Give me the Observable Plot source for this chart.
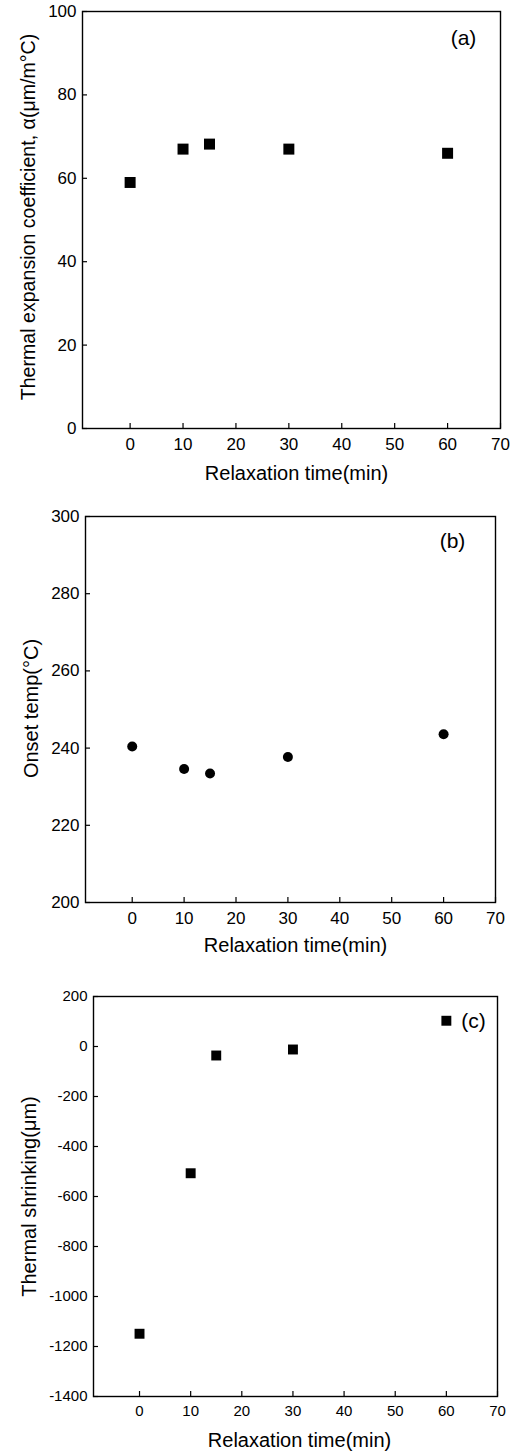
<!DOCTYPE html>
<html>
<head>
<meta charset="utf-8">
<script src="https://cdn.jsdelivr.net/npm/d3@7"></script>
<script src="https://cdn.jsdelivr.net/npm/@observablehq/plot@0.6"></script>
<style>
  html, body { margin: 0; padding: 0; background: white; }
  #chart svg { display: block; }
</style>
</head>
<body>
<div id="chart"></div>
<script>
// ---- data ----
const relaxationTime = [0, 10, 15, 30, 60];
const thermalExpansion = [59, 67, 68.2, 67, 66];          // (a) µm/m°C
const onsetTemp = [240.4, 234.6, 233.4, 237.7, 243.6];    // (b) °C
const thermalShrinking = [-1149, -507, -36, -12, 103];    // (c) µm

const xTicks = [0, 10, 20, 30, 40, 50, 60, 70];
const yTicksA = [0, 20, 40, 60, 80, 100];
const yTicksB = [200, 220, 240, 260, 280, 300];
const yTicksC = [-1400, -1200, -1000, -800, -600, -400, -200, 0, 200];

const xLabel = "Relaxation time(min)";
const yLabelA = "Thermal expansion coefficient, \u03b1(\u03bcm/m\u00b0C)";
const yLabelB = "Onset temp(\u00b0C)";
const yLabelC = "Thermal shrinking(\u03bcm)";
const tags = ["(a)", "(b)", "(c)"];

const font = "'Liberation Sans', Arial, Helvetica, sans-serif";
const TICK = 5; // inward tick length in px

function panel(o) {
  const data = relaxationTime.map((t, i) => ({t, v: o.values[i]}));
  const W = 517;
  const frameW = W - o.ml - o.mr;
  const frameH = o.height - o.mt - o.mb;
  return Plot.plot({
    width: W,
    height: o.height,
    marginTop: o.mt, marginBottom: o.mb, marginLeft: o.ml, marginRight: o.mr,
    style: {fontFamily: font, fontSize: o.fs + "px", color: "black", background: "white", overflow: "visible"},
    x: {domain: [-9, 70]},
    y: {domain: o.yDomain},
    marks: [
      Plot.frame({stroke: "black", strokeWidth: 1.4}),
      // inward tick marks (bottom and left)
      Plot.ruleX(xTicks, {x: d => d, insetTop: frameH - TICK, stroke: "black", strokeWidth: 1.2}),
      Plot.ruleY(o.yTicks, {y: d => d, insetRight: frameW - TICK, stroke: "black", strokeWidth: 1.2}),
      // tick labels
      Plot.axisX({ticks: xTicks, tickSize: 0, tickPadding: 9, label: null, tickFormat: d => String(d), fontSize: o.fs, fill: "black"}),
      Plot.axisY({ticks: o.yTicks, tickSize: 0, tickPadding: 6, label: null, tickFormat: d => String(d), fontSize: o.fs, fill: "black"}),
      Plot.dot(data, {x: "t", y: "v", symbol: o.symbol, r: o.r, fill: "black", stroke: "none"}),
      Plot.text([o.tag], {text: d => d, frameAnchor: "top-right", textAnchor: "middle", lineAnchor: "middle", dx: o.tagDx, dy: o.tagDy, fontSize: 21}),
      Plot.text([o.yLabel], {text: d => d, frameAnchor: "left", rotate: -90, textAnchor: "middle", lineAnchor: "middle", dx: o.ylDx, dy: o.ylDy || 0, fontSize: o.ylFs || 20}),
      Plot.text([xLabel], {text: d => d, frameAnchor: "bottom", textAnchor: "middle", lineAnchor: "middle", dx: o.xlDx, dy: o.xlDy, fontSize: 20})
    ]
  });
}

const chart = document.getElementById("chart");
chart.append(panel({
  values: thermalExpansion, symbol: "square", r: 6.2,
  yDomain: [0, 100], yTicks: yTicksA, yLabel: yLabelA, tag: tags[0],
  height: 490, mt: 11, mb: 62, ml: 82, mr: 17, fs: 17, ylFs: 19.6,
  tagDx: -37, tagDy: 27, ylDx: -54, ylDy: -3, xlDx: 5, xlDy: 45
}));
chart.append(panel({
  values: onsetTemp, symbol: "circle", r: 5,
  yDomain: [200, 300], yTicks: yTicksB, yLabel: yLabelB, tag: tags[1],
  height: 485, mt: 26, mb: 73, ml: 85, mr: 22, fs: 17,
  tagDx: -43, tagDy: 25, ylDx: -54, ylDy: -1, xlDx: 5, xlDy: 43
}));
chart.append(panel({
  values: thermalShrinking, symbol: "square", r: 5.6,
  yDomain: [-1400, 200], yTicks: yTicksC, yLabel: yLabelC, tag: tags[2],
  height: 476, mt: 21, mb: 55, ml: 93, mr: 20, fs: 15,
  tagDx: -24, tagDy: 25, ylDx: -64, ylDy: 0, xlDx: 4, xlDy: 44
}));
</script>
</body>
</html>
